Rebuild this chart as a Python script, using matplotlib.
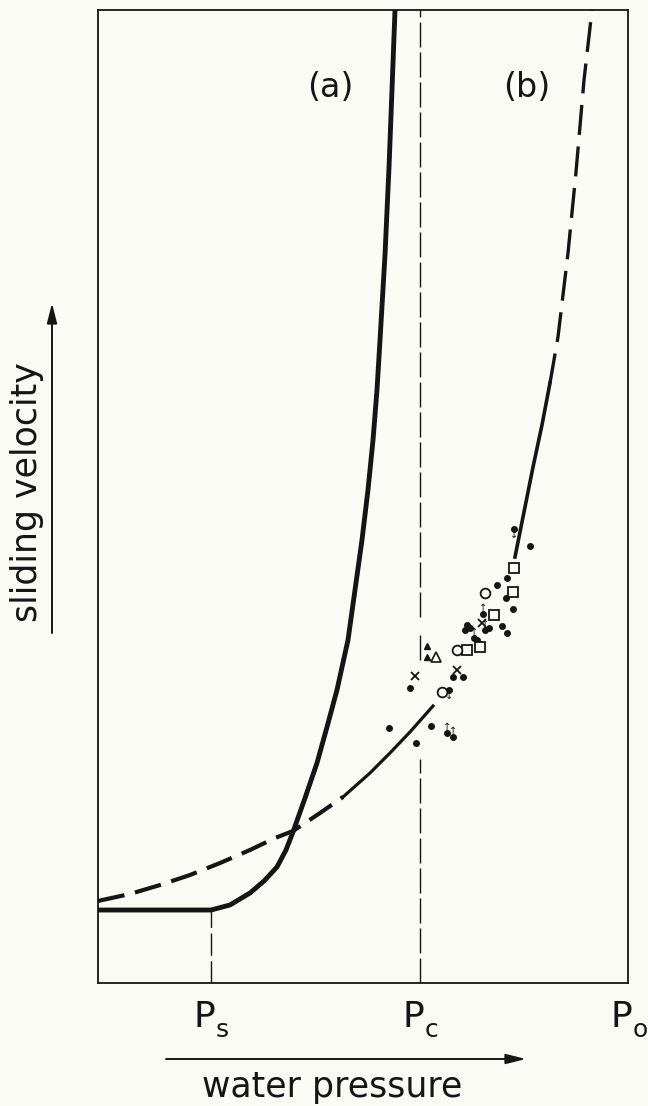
import matplotlib
matplotlib.use("Agg")
import matplotlib.pyplot as plt

# ---------------- data (arbitrary units: pressure 0-100, velocity 0-100) ----------------
P_s, P_c, P_o = 21.3, 60.8, 100.0
pressure_ticks = [P_s, P_c, P_o]
pressure_subs = ["s", "c", "o"]

# curve (a)
curve_a_p = [0.0, 21.32, 24.91, 28.68, 31.32, 33.77, 35.47, 36.79, 39.06, 41.32, 43.21,
             45.09, 47.17, 48.49, 49.81, 50.94, 51.89, 52.64, 53.21, 54.15, 54.91, 55.47, 56.04]
curve_a_v = [7.50, 7.50, 8.02, 9.25, 10.48, 11.92, 13.67, 15.52, 19.01, 22.61, 26.31,
             30.11, 35.25, 40.39, 45.53, 50.67, 55.81, 60.95, 66.08, 74.82, 83.86, 91.78, 100.0]

# curve (b): dashed low part, solid part, solid upper part, dashed top part
curve_b_low_p = [0.0, 6.04, 11.70, 17.36, 23.02, 28.68, 33.40, 36.79, 41.89, 46.23]
curve_b_low_v = [8.43, 9.15, 10.07, 11.10, 12.33, 13.67, 14.90, 15.62, 17.47, 19.12]
curve_b_mid_p = [46.23, 51.32, 55.09, 58.87, 63.21]
curve_b_mid_v = [19.12, 21.58, 23.64, 25.80, 28.47]
curve_b_up_p = [78.68, 80.38, 82.08, 83.77, 85.28]
curve_b_up_v = [43.78, 48.41, 53.03, 57.35, 61.66]
curve_b_top_p = [85.28, 86.79, 88.68, 90.19, 91.70, 93.21]
curve_b_top_v = [61.66, 66.39, 75.03, 83.35, 92.81, 100.0]

# measured points
dots_p = [78.5, 81.5, 77.2, 75.3, 77.0, 78.3, 72.6, 69.6, 70.2, 69.2, 73.8, 76.2, 77.2,
          73.0, 70.9, 71.5, 67.0, 68.9, 58.9, 66.2, 54.9, 62.8, 65.8, 67.0, 60.0]
dots_v = [46.66, 44.91, 41.62, 40.90, 39.57, 38.44, 37.92, 36.79, 36.49, 36.28, 36.49, 36.69, 35.97,
          36.28, 35.46, 35.25, 31.45, 31.45, 30.32, 30.11, 26.21, 26.41, 25.69, 25.28, 24.67]
squares_p = [78.5, 78.3, 74.7, 69.6, 72.1]
squares_v = [42.65, 40.18, 37.82, 34.22, 34.53]
circles_p = [73.0, 67.7, 64.9]
circles_v = [40.08, 34.22, 29.91]
crosses_p = [72.5, 59.8, 67.7]
crosses_v = [37.00, 31.55, 32.17]
open_tri_p = [63.8]
open_tri_v = [33.50]
filled_tri_p = [62.1, 62.1]
filled_tri_v = [34.64, 33.50]
up_arrow_p = [72.6, 73.0, 70.9, 65.8, 67.0]
up_arrow_v = [37.92, 36.28, 35.46, 25.69, 25.28]
down_arrow_p = [78.5, 66.2]
down_arrow_v = [46.66, 30.11]

# ---------------- figure ----------------
ink = "#151515"
bg = "#fbfbf6"
font = "DejaVu Sans"

fig = plt.figure(figsize=(6.48, 11.06), dpi=100)
fig.patch.set_facecolor(bg)
ax = fig.add_axes([98 / 648, 1 - 983 / 1106, 530 / 648, 973 / 1106])
ax.set_facecolor(bg)
ax.set_xlim(0, 100)
ax.set_ylim(0, 100)
ax.set_xticks([])
ax.set_yticks([])
for s in ax.spines.values():
    s.set_linewidth(1.3)
    s.set_color(ink)

# reference dashed verticals
ax.plot([P_s, P_s], [0, curve_a_v[0]], color=ink, lw=1.0, dashes=(16, 4))
for lo, hi in [(0, 23.0), (33.2, 36.3), (37.6, 100)]:
    ax.plot([P_c, P_c], [lo, hi], color=ink, lw=1.0, dashes=(18, 3.6))

# curves
ax.plot(curve_a_p, curve_a_v, color=ink, lw=3.5, solid_capstyle="butt",
        solid_joinstyle="round", clip_on=False)
ax.plot(curve_b_low_p, curve_b_low_v, color=ink, lw=3.0, dashes=(6.5, 2.6))
ax.plot(curve_b_mid_p, curve_b_mid_v, color=ink, lw=2.3, solid_joinstyle="round")
ax.plot(curve_b_up_p, curve_b_up_v, color=ink, lw=2.6, solid_joinstyle="round")
ax.plot(curve_b_top_p, curve_b_top_v, color=ink, lw=2.4, dashes=(9, 3.5))

# data symbols
ax.plot(dots_p, dots_v, "o", ms=4.0, color=ink, mec=ink)
ax.plot(squares_p, squares_v, "s", ms=7.5, mfc=bg, mec=ink, mew=1.3)
ax.plot(circles_p, circles_v, "o", ms=7, mfc=bg, mec=ink, mew=1.3)
ax.plot(crosses_p, crosses_v, "x", ms=5.5, color=ink, mew=1.3)
ax.plot(open_tri_p, open_tri_v, "^", ms=6.5, mfc=bg, mec=ink, mew=1.2)
ax.plot(filled_tri_p, filled_tri_v, "^", ms=3.8, color=ink)
for x, y in zip(up_arrow_p, up_arrow_v):
    ax.annotate("\u2191", xy=(x, y), xytext=(0, 1), textcoords="offset points",
                ha="center", va="bottom", fontsize=7, color=ink, family="DejaVu Sans")
for x, y in zip(down_arrow_p, down_arrow_v):
    ax.annotate("\u2193", xy=(x, y), xytext=(0, -1), textcoords="offset points",
                ha="center", va="top", fontsize=7, color=ink, family="DejaVu Sans")

# curve labels
ax.text(43.8, 92.0, "(a)", ha="center", va="center", fontsize=24, family=font, color=ink)
ax.text(80.9, 92.0, "(b)", ha="center", va="center", fontsize=24, family=font, color=ink)

# pressure labels
for x, sub in zip(pressure_ticks, pressure_subs):
    ax.annotate("P", xy=(x, -4.52), xytext=(-5.0, 0), textcoords="offset points",
                ha="center", va="baseline", fontsize=26, family=font, color=ink,
                annotation_clip=False)
    ax.annotate(sub, xy=(x, -4.52), xytext=(3.1, -7.5), textcoords="offset points",
                ha="left", va="baseline", fontsize=18, family=font, color=ink,
                annotation_clip=False)

# axis arrows and titles
ax.annotate("", xy=(526, 1106 - 1059), xycoords="figure pixels",
            xytext=(166, 1106 - 1059), textcoords="figure pixels",
            arrowprops=dict(arrowstyle="-|>,head_length=1.2,head_width=0.3",
                            lw=1.4, color=ink, shrinkA=0, shrinkB=0))
ax.annotate("", xy=(52, 1106 - 303), xycoords="figure pixels",
            xytext=(52, 1106 - 633), textcoords="figure pixels",
            arrowprops=dict(arrowstyle="-|>,head_length=1.2,head_width=0.3",
                            lw=1.4, color=ink, shrinkA=0, shrinkB=0))

fig.text(332 / 648, 9 / 1106, "water pressure", ha="center", va="baseline",
         fontsize=25, family=font, color=ink)
fig.text(27 / 648, 1 - 492 / 1106, "sliding velocity", ha="center", va="center",
         rotation=90, fontsize=25, family=font, color=ink)

fig.savefig("out.png", dpi=100, facecolor=bg)
